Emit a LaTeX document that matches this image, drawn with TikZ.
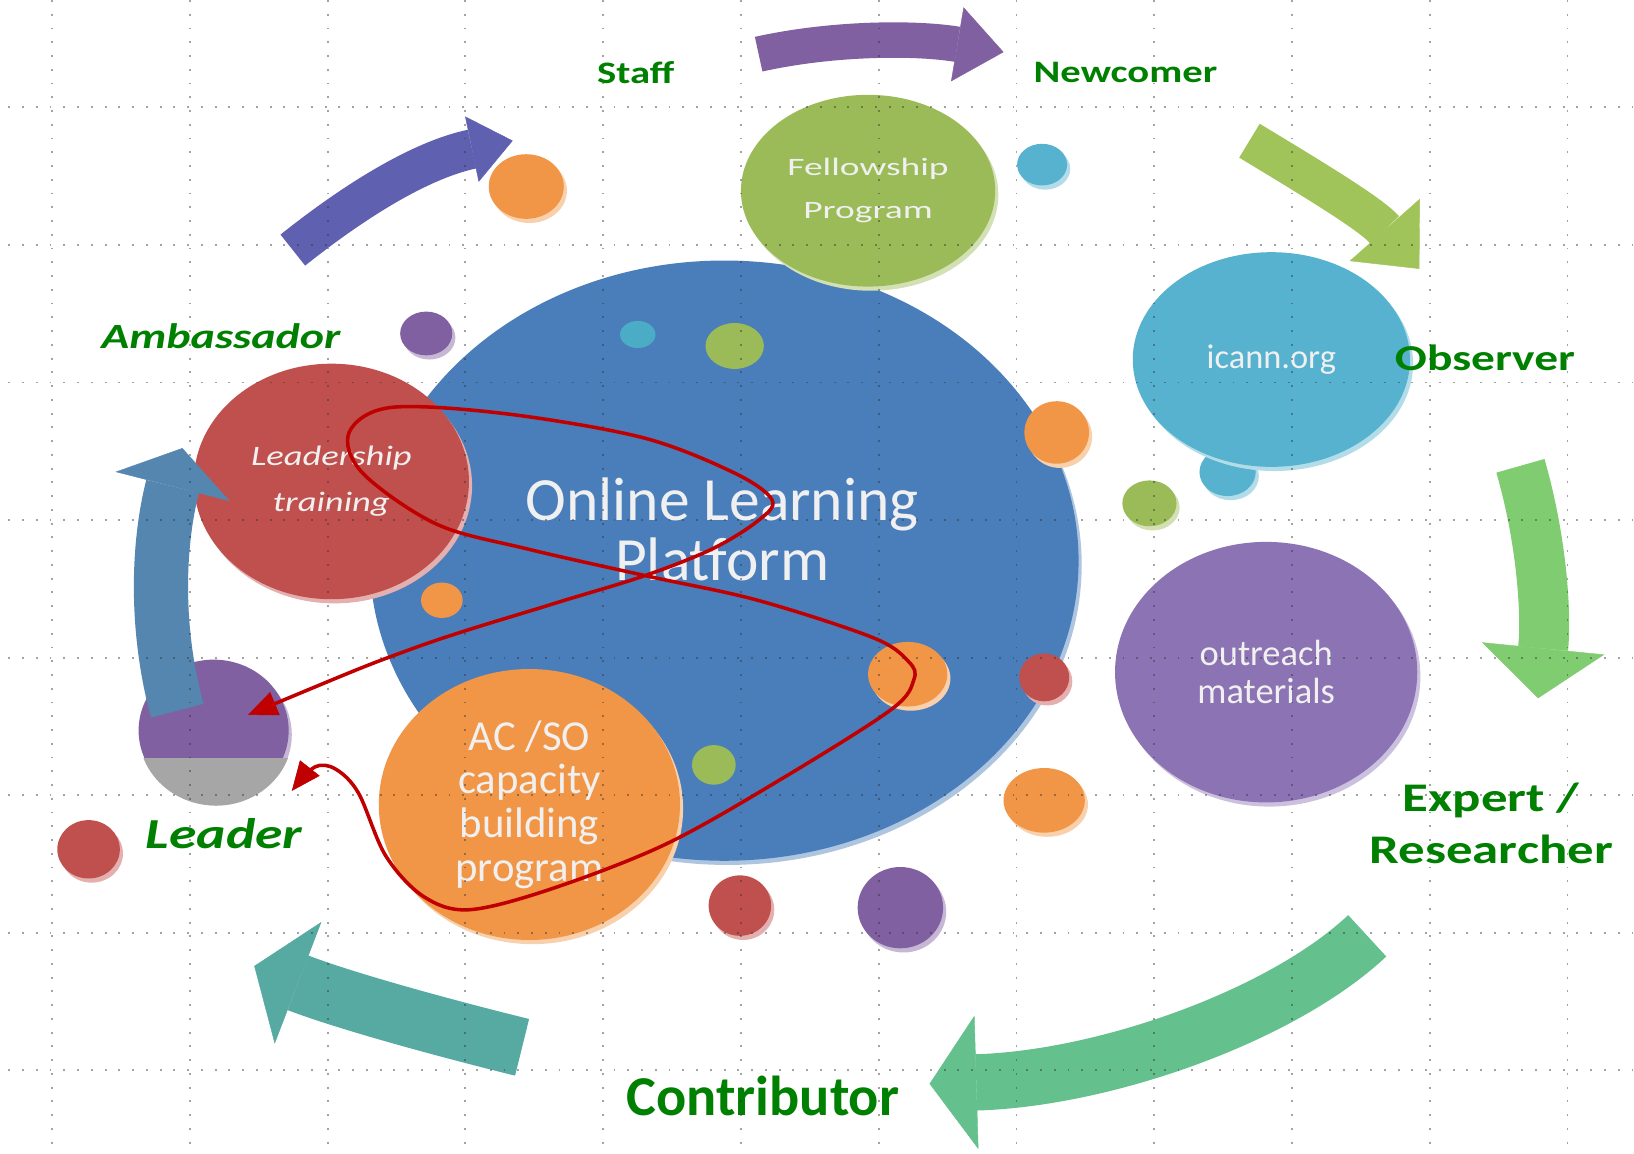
\documentclass[tikz,border=0pt]{standalone}
\usepackage{fontspec}
\setmainfont{Carlito}
\newfontfamily\widefont[FakeStretch=1.3]{Carlito}
\newfontfamily\xwidefont[FakeStretch=1.5]{Carlito}
\usetikzlibrary{arrows.meta,shapes.geometric,shadows}
\definecolor{olpblue}{RGB}{74,126,187}
\definecolor{fpgreen}{RGB}{155,187,89}
\definecolor{icannblue}{RGB}{86,178,206}
\definecolor{ompurple}{RGB}{140,115,180}
\definecolor{acorange}{RGB}{240,150,70}
\definecolor{ltred}{RGB}{192,80,77}
\definecolor{ldpurple}{RGB}{128,96,160}
\definecolor{dotteal}{RGB}{75,172,198}
\definecolor{rolegreen}{RGB}{0,128,0}
\definecolor{loopred}{RGB}{192,0,0}
\definecolor{arrA}{RGB}{96,96,176}
\definecolor{arrB}{RGB}{128,96,160}
\definecolor{arrC}{RGB}{160,196,90}
\definecolor{arrD}{RGB}{128,204,112}
\definecolor{arrE}{RGB}{100,192,140}
\definecolor{arrF}{RGB}{86,170,162}
\definecolor{arrG}{RGB}{84,134,176}

\begin{document}
\begin{tikzpicture}[x=1pt, y=-1pt,
  disc/.style={ellipse, inner sep=0pt, fill=#1, drop shadow={fill=#1!45!white, shadow xshift=3pt, shadow yshift=-4pt, opacity=1}},
  spot/.style={ellipse, inner sep=0pt, fill=#1},
  intext/.style={text=white!94!black, align=center},
  role/.style={text=rolegreen, align=center},
  flow/.style={line width=#1},
  redline/.style={draw=loopred, line width=3.4pt, {Triangle[length=28pt,width=24pt,line width=.5pt]}-{Triangle[length=28pt,width=24pt,line width=.5pt]}},
  gridline/.style={black!80, line width=1.8pt, dash pattern=on 1.8pt off 11.4pt, opacity=.45}]
\fill[white] (0,0) rectangle (1568,1107);
\useasboundingbox (0,0) rectangle (1568,1107);

\coordinate (a1) at (281,240);
\coordinate (a2) at (492,135);
\draw[flow=38pt, arrA, -{Triangle[width=64pt,length=40pt,line width=.4pt]}] (a1) .. controls (350,185) and (410,152) .. (a2);

\node[disc=olpblue, minimum width=680pt, minimum height=576pt] (olp) at (695,538) {};
\node[intext, font=\fontsize{59}{57}\selectfont] (olpt) at (693,508) {Online Learning\\Platform};
\node[disc=fpgreen, minimum width=244pt, minimum height=184pt, intext, font=\xwidefont\fontsize{24}{41}\selectfont] (fp) at (833,183) {Fellowship\\Program};
\node[disc=icannblue, minimum width=54pt, minimum height=46pt] (ib) at (1178,453) {};
\node[disc=icannblue, minimum width=266pt, minimum height=206pt, intext, font=\fontsize{33}{33}\selectfont] (icann) at (1220,345) {icann.org};
\node[disc=ompurple, minimum width=290pt, minimum height=250pt, intext, font=\fontsize{35}{36}\selectfont] (om) at (1215,645) {outreach\\materials};
\node[disc=acorange, minimum width=289pt, minimum height=260pt, intext, font=\fontsize{41}{42}\selectfont] (acso) at (508,772) {AC /SO\\capacity\\building\\program};
\node[disc=ltred, minimum width=264pt, minimum height=226pt, intext, font=\widefont\itshape\fontsize{27}{44}\selectfont] (lt) at (318,462) {Leadership\\training};

\node[disc=acorange, minimum width=72pt, minimum height=62pt] (d1) at (505,179) {};
\node[disc=ldpurple, minimum width=50pt, minimum height=42pt] (d2) at (409,320) {};
\node[disc=icannblue, minimum width=48pt, minimum height=40pt] (d3) at (1000,158) {};
\node[disc=acorange, minimum width=62pt, minimum height=60pt] (d4) at (1014,415) {};
\node[disc=fpgreen, minimum width=52pt, minimum height=44pt] (d5) at (1103,483) {};
\node[disc=acorange, minimum width=76pt, minimum height=62pt] (d6) at (871,647) {};
\node[disc=ltred, minimum width=48pt, minimum height=46pt] (d7) at (1002,650) {};
\node[disc=acorange, minimum width=78pt, minimum height=62pt] (d8) at (1002,768) {};
\node[disc=ldpurple, minimum width=82pt, minimum height=78pt] (d9) at (864,871) {};
\node[disc=ltred, minimum width=60pt, minimum height=58pt] (d10) at (710,869) {};
\node[disc=ltred, minimum width=60pt, minimum height=56pt] (d11) at (85,815) {};
\node[spot=dotteal, minimum width=34pt, minimum height=26pt] (s1) at (612,321) {};
\node[spot=fpgreen, minimum width=56pt, minimum height=44pt] (s2) at (705,332) {};
\node[spot=acorange, minimum width=40pt, minimum height=34pt] (s3) at (424,576) {};
\node[spot=fpgreen, minimum width=42pt, minimum height=38pt] (s4) at (685,734) {};

\node[disc=ldpurple, minimum width=144pt, minimum height=136pt] (ldr) at (205,701) {};
\begin{scope}
\clip (207,703) ellipse [x radius=74, y radius=70];
\fill[black!35] (120,727) rectangle (300,790);
\end{scope}

\coordinate (b1) at (728,52);
\coordinate (b2) at (963,50);
\coordinate (c1) at (1199,135);
\coordinate (c2) at (1362,258);
\coordinate (e1) at (1459,447);
\coordinate (e2) at (1476,670);
\coordinate (f1) at (1312,898);
\coordinate (f2) at (892,1040);
\coordinate (g1) at (501,1005);
\coordinate (g2) at (244,927);
\coordinate (h1) at (170,682);
\coordinate (h2) at (175,430);
\draw[flow=34pt, arrB, -{Triangle[width=72pt,length=45pt,line width=.4pt]}] (b1) .. controls (800,36) and (880,36) .. (b2);
\draw[flow=38pt, arrC, -{Triangle[width=90pt,length=50pt,line width=.4pt]}] (c1) .. controls (1260,172) and (1315,205) .. (c2);
\draw[flow=48pt, arrD, -{Triangle[width=118pt,length=48pt,line width=.4pt]}] (e1) .. controls (1480,520) and (1484,590) .. (e2);
\draw[flow=54pt, arrE, -{Triangle[width=128pt,length=45pt,line width=.4pt]}] (f1) .. controls (1230,975) and (1060,1035) .. (f2);
\draw[flow=56pt, arrF, -{Triangle[width=125pt,length=45pt,line width=.4pt]}] (g1) .. controls (420,985) and (330,960) .. (g2);
\draw[flow=52pt, arrG, -{Triangle[width=113pt,length=38pt,line width=.4pt]}] (h1) .. controls (148,600) and (152,520) .. (h2);

\node[role, font=\widefont\bfseries\fontsize{30}{30}\selectfont] (staff) at (610,70) {Staff};
\node[role, font=\widefont\bfseries\fontsize{30}{30}\selectfont] (newc) at (1080,70) {Newcomer};
\node[role, font=\widefont\bfseries\fontsize{35}{35}\selectfont] (obs) at (1425,343) {Observer};
\node[role, font=\widefont\bfseries\fontsize{39}{50}\selectfont] (exp) at (1431,790) {Expert /\\Researcher};
\node[role, font=\bfseries\fontsize{54}{54}\selectfont] (contr) at (732,1052) {Contributor};
\node[role, font=\widefont\bfseries\itshape\fontsize{41}{41}\selectfont] (lead) at (215,800) {Leader};
\node[role, font=\widefont\bfseries\itshape\fontsize{34}{34}\selectfont] (amb) at (212,323) {Ambassador};

\coordinate (r1) at (238,686);
\coordinate (r2) at (280,759);
\draw[redline] plot[smooth, tension=.55] coordinates {(r1) (397,622) (529,580) (617,553) (683,527) (727,500) (741,480) (705,454) (617,420) (485,397) (375,391) (335,415) (348,454) (419,503) (507,527) (622,553) (727,576) (838,612) (872,635) (877,652) (855,681) (749,748) (639,810) (529,853) (450,873) (406,860) (370,821) (344,761) (322,738) (302,736) (r2)};

\foreach \k in {0,...,11}
  \draw[gridline] ({50+132.2*\k},0) -- ({50+132.2*\k},1107);
\foreach \k in {0,...,7}
  \draw[gridline] (8,{103+132*\k}) -- (1568,{103+132*\k});
\end{tikzpicture}
\end{document}
